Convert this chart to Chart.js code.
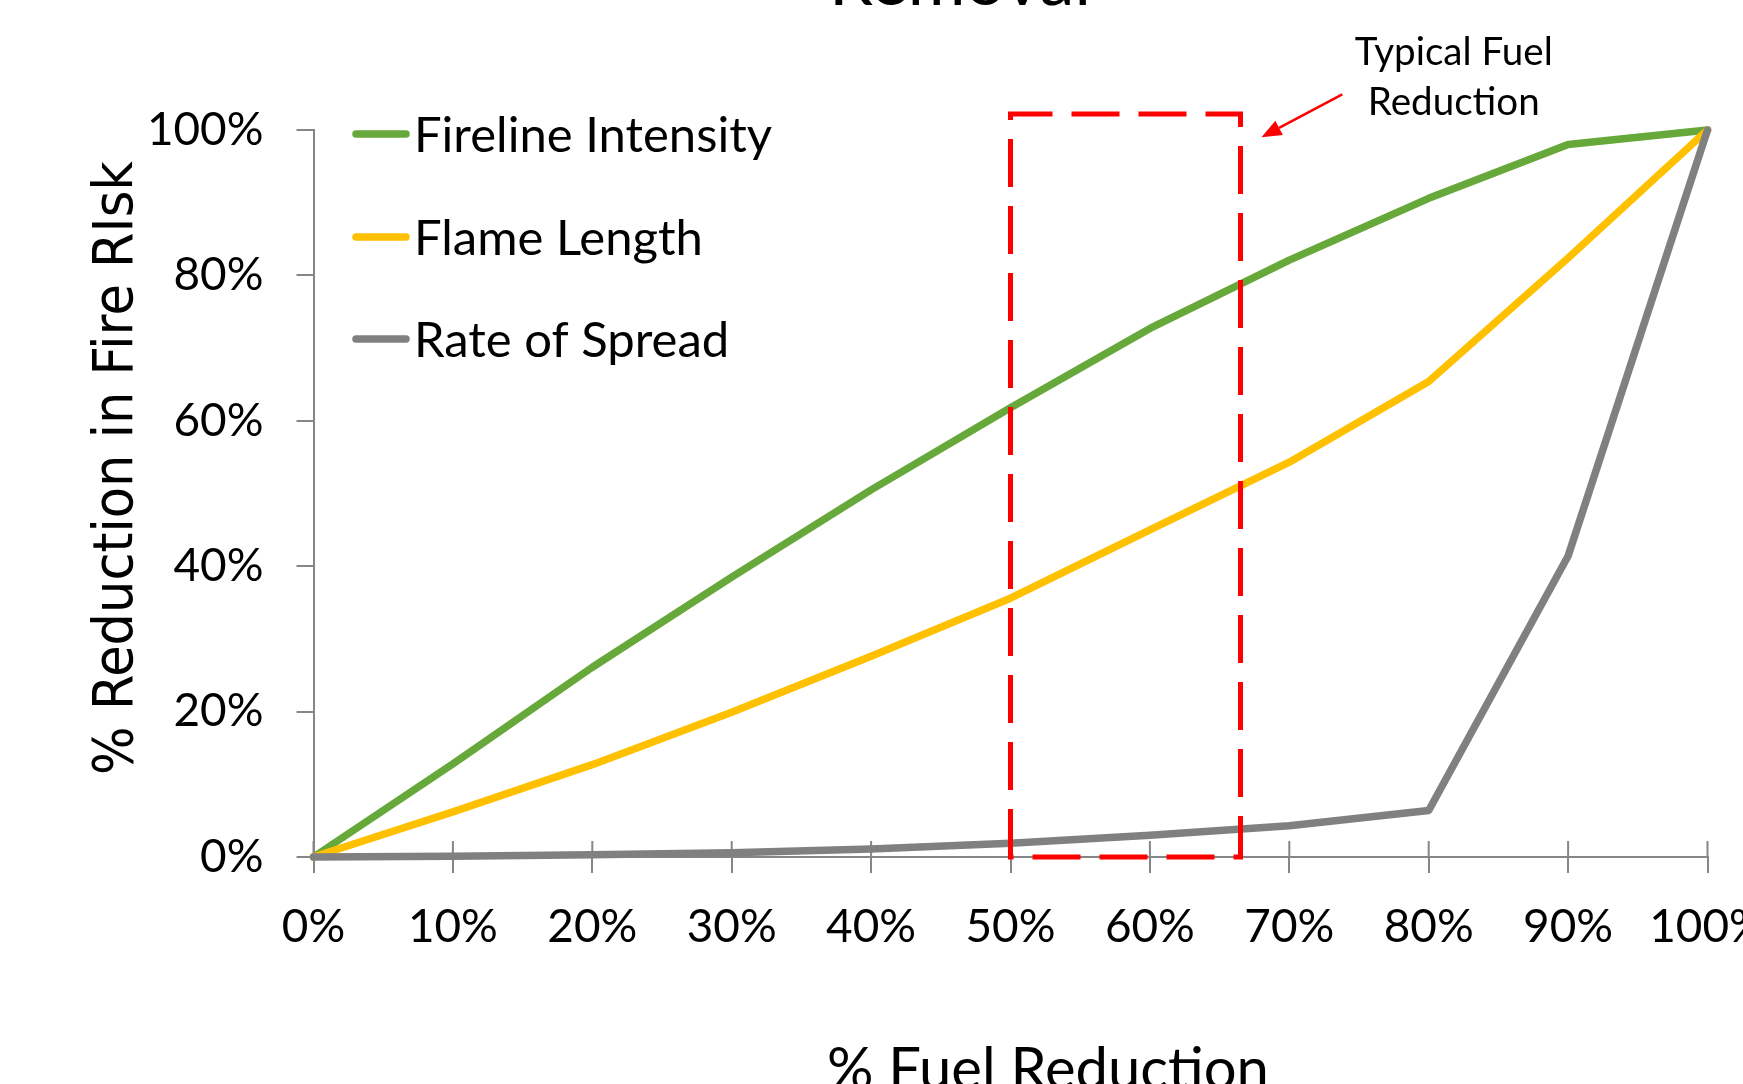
<!DOCTYPE html>
<html>
<head>
<meta charset="utf-8">
<script src="https://cdn.jsdelivr.net/npm/chart.js@4/dist/chart.umd.min.js"></script>
<style>
html,body{margin:0;padding:0;background:#fff;overflow:hidden}
#wrap{width:1743px;height:1084px;position:relative}
</style>
</head>
<body>
<div id="wrap"><canvas id="c"></canvas></div>
<script>
// ---- data ----
const fuelReduction = [0, 10, 20, 30, 40, 50, 60, 70, 80, 90, 100];
const firelineIntensity = [0, 12.8, 26.1, 38.5, 50.5, 61.8, 72.7, 82.1, 90.6, 98.0, 100];
const flameLength = [0, 6.2, 12.7, 19.9, 27.6, 35.6, 45.0, 54.3, 65.4, 82.4, 100];
const rateOfSpread = [0, 0.1, 0.3, 0.6, 1.1, 1.9, 3.0, 4.3, 6.4, 41.4, 100];
const seriesNames = ['Fireline Intensity', 'Flame Length', 'Rate of Spread'];
const xTickValues = [0, 10, 20, 30, 40, 50, 60, 70, 80, 90, 100];
const yTickValues = [0, 20, 40, 60, 80, 100];
const typicalRangeX = [50, 66.5];
const typicalRangeY = [0, 102.2];
const noteLines = ['Typical Fuel', 'Reduction'];
const chartTitle = 'Removal';
const xTitle = '% Fuel Reduction';
const yTitle = '% Reduction in Fire RIsk';

// ---- styling ----
const SANS = 'Lato';
const AXIS = '#868686';
const colors = ['#66A83A', '#FFC000', '#808080'];

function fitSize(text, family, target, weight) {
  const c = document.createElement('canvas').getContext('2d');
  c.font = (weight || 'normal') + ' 100px ' + family;
  return 100 * target / c.measureText(text).width;
}
const tickSize = fitSize('80%', SANS, 90);
const legendSize = fitSize('Fireline Intensity', SANS, 358);
const xTitleSize = fitSize(xTitle, SANS, 442);
const titleSize = fitSize(chartTitle, SANS, 262);
const noteSize = fitSize('Typical Fuel', SANS, 198);
const yTitleSize = fitSize(yTitle, 'DejaVu Sans', 614);

const series = [firelineIntensity, flameLength, rateOfSpread];
const datasets = series.map((vals, i) => ({
  label: seriesNames[i],
  data: fuelReduction.map((x, j) => ({x: x, y: vals[j]})),
  borderColor: colors[i],
  backgroundColor: colors[i],
  borderWidth: 7.5,
  pointRadius: 0,
  pointHoverRadius: 0,
  tension: 0,
  fill: false,
  clip: false,
  borderCapStyle: 'round',
  borderJoinStyle: 'round',
  order: 3 - i
}));

const innerTicks = {
  id: 'innerTicks',
  beforeDatasetsDraw(chart) {
    const {ctx, scales: {x}, chartArea} = chart;
    ctx.save();
    ctx.strokeStyle = AXIS; ctx.lineWidth = 2;
    x.ticks.forEach(t => {
      const px = x.getPixelForValue(t.value);
      ctx.beginPath(); ctx.moveTo(px, chartArea.bottom); ctx.lineTo(px, chartArea.bottom - 16); ctx.stroke();
    });
    ctx.restore();
  }
};

const annotations = {
  id: 'annotations',
  afterDatasetsDraw(chart) {
    const {ctx, scales: {x, y}} = chart;
    ctx.save();
    // dashed box
    const x0 = x.getPixelForValue(typicalRangeX[0]), x1 = x.getPixelForValue(typicalRangeX[1]);
    const y0 = y.getPixelForValue(typicalRangeY[0]), y1 = y.getPixelForValue(typicalRangeY[1]);
    ctx.strokeStyle = '#FF0000'; ctx.lineWidth = 5; ctx.setLineDash([48, 19]);
    ctx.lineJoin = 'miter';
    ctx.beginPath();
    ctx.moveTo(x0, y0); ctx.lineTo(x0, y1); ctx.lineTo(x1, y1); ctx.lineTo(x1, y0); ctx.closePath();
    ctx.stroke();
    ctx.setLineDash([]);
    // arrow
    const ax0 = x.getPixelForValue(73.8), ay0 = y.getPixelForValue(104.9);
    const ax1 = x.getPixelForValue(68.0), ay1 = y.getPixelForValue(99.0);
    const ang = Math.atan2(ay1 - ay0, ax1 - ax0);
    const hl = 20, hw = 8;
    const bx = ax1 - hl * Math.cos(ang), by = ay1 - hl * Math.sin(ang);
    ctx.lineWidth = 2.5;
    ctx.beginPath(); ctx.moveTo(ax0, ay0); ctx.lineTo(bx, by); ctx.stroke();
    ctx.fillStyle = '#FF0000';
    ctx.beginPath();
    ctx.moveTo(ax1, ay1);
    ctx.lineTo(bx + hw * Math.sin(ang), by - hw * Math.cos(ang));
    ctx.lineTo(bx - hw * Math.sin(ang), by + hw * Math.cos(ang));
    ctx.closePath(); ctx.fill();
    // note text
    ctx.fillStyle = '#000';
    ctx.font = noteSize + 'px ' + SANS;
    ctx.textAlign = 'center'; ctx.textBaseline = 'alphabetic';
    const nx = x.getPixelForValue(81.8);
    ctx.fillText(noteLines[0], nx, y.getPixelForValue(108.9));
    ctx.fillText(noteLines[1], nx, y.getPixelForValue(102.1));
    ctx.restore();
  }
};

const legendAndTitles = {
  id: 'legendAndTitles',
  afterDraw(chart) {
    const {ctx} = chart;
    ctx.save();
    // legend
    const rows = [134, 237, 339];
    chart.data.datasets.forEach((ds, i) => {
      ctx.strokeStyle = ds.borderColor; ctx.lineWidth = 7.5; ctx.lineCap = 'round';
      ctx.beginPath(); ctx.moveTo(356, rows[i]); ctx.lineTo(406, rows[i]); ctx.stroke();
      ctx.fillStyle = '#000';
      ctx.font = legendSize + 'px ' + SANS;
      ctx.textAlign = 'left'; ctx.textBaseline = 'middle';
      ctx.fillText(ds.label, 414, rows[i] + 2);
    });
    // chart title (cut at top)
    ctx.font = titleSize + 'px ' + SANS;
    ctx.textAlign = 'center'; ctx.textBaseline = 'alphabetic';
    ctx.fillText(chartTitle, 960, 5);
    // x title
    ctx.font = xTitleSize + 'px ' + SANS;
    ctx.fillText(xTitle, 1048, 1047 + 0.72 * xTitleSize);
    // y title
    ctx.translate(132, 468);
    ctx.rotate(-Math.PI / 2);
    ctx.scale(1, 40 / (0.729 * yTitleSize));
    ctx.font = yTitleSize + 'px "DejaVu Sans"';
    ctx.textAlign = 'center'; ctx.textBaseline = 'alphabetic';
    ctx.fillText(yTitle, 0, 0);
    ctx.restore();
  }
};

new Chart(document.getElementById('c'), {
  type: 'line',
  data: {datasets: datasets},
  options: {
    responsive: true,
    maintainAspectRatio: false,
    animation: false,
    events: [],
    layout: {padding: {top: 130, right: 35.5, bottom: 0, left: 0}},
    plugins: {legend: {display: false}, title: {display: false}, tooltip: {enabled: false}},
    scales: {
      x: {
        type: 'linear', min: 0, max: 100,
        afterBuildTicks: s => { s.ticks = xTickValues.map(v => ({value: v})); },
        ticks: {autoSkip: false, maxRotation: 0, minRotation: 0, padding: 27, color: '#000',
          font: {family: SANS, size: tickSize}, callback: v => v + '%'},
        grid: {drawOnChartArea: false, drawTicks: true, tickLength: 16, color: AXIS, lineWidth: 2},
        border: {color: AXIS, width: 2},
        afterFit: s => { s.height = 227; s.paddingLeft = 0; s.paddingRight = 0; }
      },
      y: {
        type: 'linear', min: 0, max: 100,
        afterBuildTicks: s => { s.ticks = yTickValues.map(v => ({value: v})); },
        ticks: {padding: 33, color: '#000', font: {family: SANS, size: tickSize}, callback: v => v + '%'},
        grid: {drawOnChartArea: false, drawTicks: true, tickLength: 17, color: AXIS, lineWidth: 2},
        border: {color: AXIS, width: 2},
        afterFit: s => { s.width = 313.5; s.paddingTop = 0; s.paddingBottom = 0; }
      }
    }
  },
  plugins: [innerTicks, annotations, legendAndTitles]
});
</script>
</body>
</html>
